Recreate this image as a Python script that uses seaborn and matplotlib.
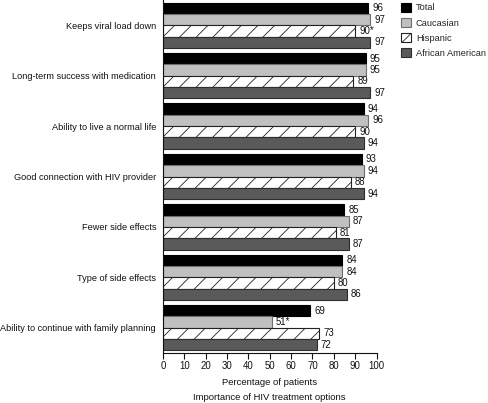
import matplotlib
matplotlib.use("Agg")
import matplotlib.pyplot as plt
import seaborn as sns
import pandas as pd
from matplotlib.patches import Patch

categories = [
    "Keeps viral load down",
    "Long-term success with medication",
    "Ability to live a normal life",
    "Good connection with HIV provider",
    "Fewer side effects",
    "Type of side effects",
    "Ability to continue with family planning",
]
groups = ["Total", "Caucasian", "Hispanic", "African American"]
total = [96, 95, 94, 93, 85, 84, 69]
caucasian = [97, 95, 96, 94, 87, 84, 51]
hispanic = [90, 89, 90, 88, 81, 80, 73]
african_american = [97, 97, 94, 94, 87, 86, 72]
# significance markers
caucasian_star = ["", "", "", "", "", "", "*"]
hispanic_star = ["*", "", "", "", "", "", ""]
total_star = [""] * 7
aa_star = [""] * 7

series = [total, caucasian, hispanic, african_american]
stars = [total_star, caucasian_star, hispanic_star, aa_star]

rows = []
for g, vals in zip(groups, series):
    for c, v in zip(categories, vals):
        rows.append({"category": c, "group": g, "value": v})
df = pd.DataFrame(rows)

sns.set_theme(style="white")
plt.rcParams["font.family"] = ["Liberation Sans", "DejaVu Sans"]
plt.rcParams["hatch.linewidth"] = 0.6

face = ["#000000", "#c0c0c0", "#ffffff", "#5a5a5a"]
edge = ["#000000", "#6e6e6e", "#222222", "#2e2e2e"]

fig = plt.figure(figsize=(4.88, 4.03), dpi=100)
ax = fig.add_axes([163 / 488, 1 - 353 / 403, (376.5 - 163) / 488, 353 / 403])

sns.barplot(data=df, y="category", x="value", hue="group", order=categories,
            hue_order=groups, palette=face, orient="h", width=0.9,
            ax=ax, legend=False, saturation=1)

for i, cont in enumerate(ax.containers):
    for bar in cont:
        bar.set_facecolor(face[i])
        bar.set_edgecolor(edge[i])
        bar.set_linewidth(0.8)
        if i == 2:
            bar.set_hatch("//")
    labels = [f"{v}{s}" for v, s in zip(series[i], stars[i])]
    ax.bar_label(cont, labels=labels, padding=3, fontsize=6.9, color="#111111")

ax.set_xlim(0, 100)
ax.set_xticks(range(0, 101, 10))
ax.set_ylim(len(categories) - 0.5, -0.5)
ax.set_ylabel("")
ax.set_xlabel("Percentage of patients", fontsize=6.8, labelpad=5, color="#111111")
ax.tick_params(axis="x", length=4, width=0.8, color="#111111", labelsize=6.9,
               pad=2, labelcolor="#111111", bottom=True)
ax.tick_params(axis="y", length=0, labelsize=6.6, pad=5, labelcolor="#111111")
for s in ["top", "right"]:
    ax.spines[s].set_visible(False)
for s in ["left", "bottom"]:
    ax.spines[s].set_color("#111111")
    ax.spines[s].set_linewidth(0.8)

ax.annotate("Importance of HIV treatment options", xy=(0.5, 0), xycoords="axes fraction",
            xytext=(0, -32), textcoords="offset points", ha="center", va="center",
            fontsize=6.8, color="#111111")

handles = [Patch(facecolor=face[i], edgecolor=edge[i], linewidth=0.8,
                 hatch="///" if i == 2 else None, label=groups[i]) for i in range(4)]
fig.legend(handles=handles, loc="upper left", bbox_to_anchor=(401 / 488, 1 - 3 / 403),
           frameon=False, fontsize=6.7, handlelength=1.05, handleheight=1.05,
           handletextpad=0.55, labelspacing=0.6, borderaxespad=0, borderpad=0)

fig.savefig("out.png", dpi=100)
